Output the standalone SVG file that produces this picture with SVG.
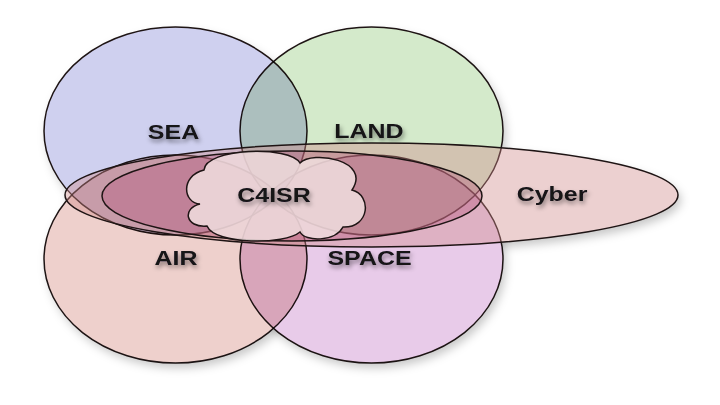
<svg xmlns="http://www.w3.org/2000/svg" width="720" height="405" viewBox="0 0 720 405">
<defs>
<style>
.ring{stroke:#1e1414;stroke-width:1.5;mix-blend-mode:multiply}
.lbl{font-family:"Liberation Sans",Arial,sans-serif;font-weight:bold;font-size:19.5px;fill:#141218;text-anchor:middle;filter:url(#ts)}
.shadow{fill:#000;opacity:0.22}
.base{fill:#fff}
</style>
<filter id="ts" x="-20%" y="-40%" width="140%" height="200%">
<feDropShadow dx="1" dy="3" stdDeviation="2.2" flood-color="#000" flood-opacity="0.45"/>
</filter>
<filter id="bl" x="-10%" y="-10%" width="120%" height="120%">
<feGaussianBlur stdDeviation="5"/>
</filter>
</defs>
<rect width="720" height="405" fill="#fff"/>
<g id="shadows" filter="url(#bl)" transform="translate(3,5)">
<ellipse class="shadow" cx="175.5" cy="131" rx="131.5" ry="104"/>
<ellipse class="shadow" cx="371.5" cy="131" rx="131.5" ry="104"/>
<ellipse class="shadow" cx="175.5" cy="259" rx="131.5" ry="104"/>
<ellipse class="shadow" cx="371.5" cy="259" rx="131.5" ry="104"/>
<ellipse class="shadow" cx="371.5" cy="195" rx="306.5" ry="52"/>
</g>
<g id="bases">
<ellipse class="base" cx="175.5" cy="131" rx="131.5" ry="104"/>
<ellipse class="base" cx="371.5" cy="131" rx="131.5" ry="104"/>
<ellipse class="base" cx="175.5" cy="259" rx="131.5" ry="104"/>
<ellipse class="base" cx="371.5" cy="259" rx="131.5" ry="104"/>
<ellipse class="base" cx="371.5" cy="195" rx="306.5" ry="52"/>
</g>
<g id="sea">
<ellipse class="ring" cx="175.5" cy="131" rx="131.5" ry="104" fill="#cfd0ef"/>
<text class="lbl" transform="translate(173.5,139) scale(1.28,1)">SEA</text>
</g>
<g id="land">
<ellipse class="ring" cx="371.5" cy="131" rx="131.5" ry="104" fill="#d4eacb"/>
<text class="lbl" transform="translate(369,138) scale(1.28,1)">LAND</text>
</g>
<g id="air">
<ellipse class="ring" cx="175.5" cy="259" rx="131.5" ry="104" fill="#eed0cc"/>
<text class="lbl" transform="translate(176,265) scale(1.28,1)">AIR</text>
</g>
<g id="space">
<ellipse class="ring" cx="371.5" cy="259" rx="131.5" ry="104" fill="#e8cbe9"/>
<text class="lbl" transform="translate(369.5,265) scale(1.28,1)">SPACE</text>
</g>
<g id="cyber">
<ellipse cx="371.5" cy="195" rx="306.5" ry="52" fill="#cf8989" fill-opacity="0.4" stroke="#1e1414" stroke-width="1.5"/>
<text class="lbl" transform="translate(552,201) scale(1.28,1)">Cyber</text>
</g>
<g id="inner-ellipse">
<ellipse cx="292" cy="196" rx="190" ry="45" fill="#b45078" fill-opacity="0.35" stroke="#1e1414" stroke-width="1.5"/>
</g>
<g id="c4isr">
<path d="M200,204 C183,203 180,176 204,170 C205,148 290,145 300,163 C312,150 372,160 352,190 C372,195 370,228 343,227 C335,242 305,242 300,232 C285,245 215,245 207,226 C185,228 182,208 200,204 Z" fill="#f3e3e3" fill-opacity="0.8" stroke="#1e1414" stroke-width="1.5"/>
<text class="lbl" transform="translate(274,202) scale(1.28,1)">C4ISR</text>
</g>
</svg>
